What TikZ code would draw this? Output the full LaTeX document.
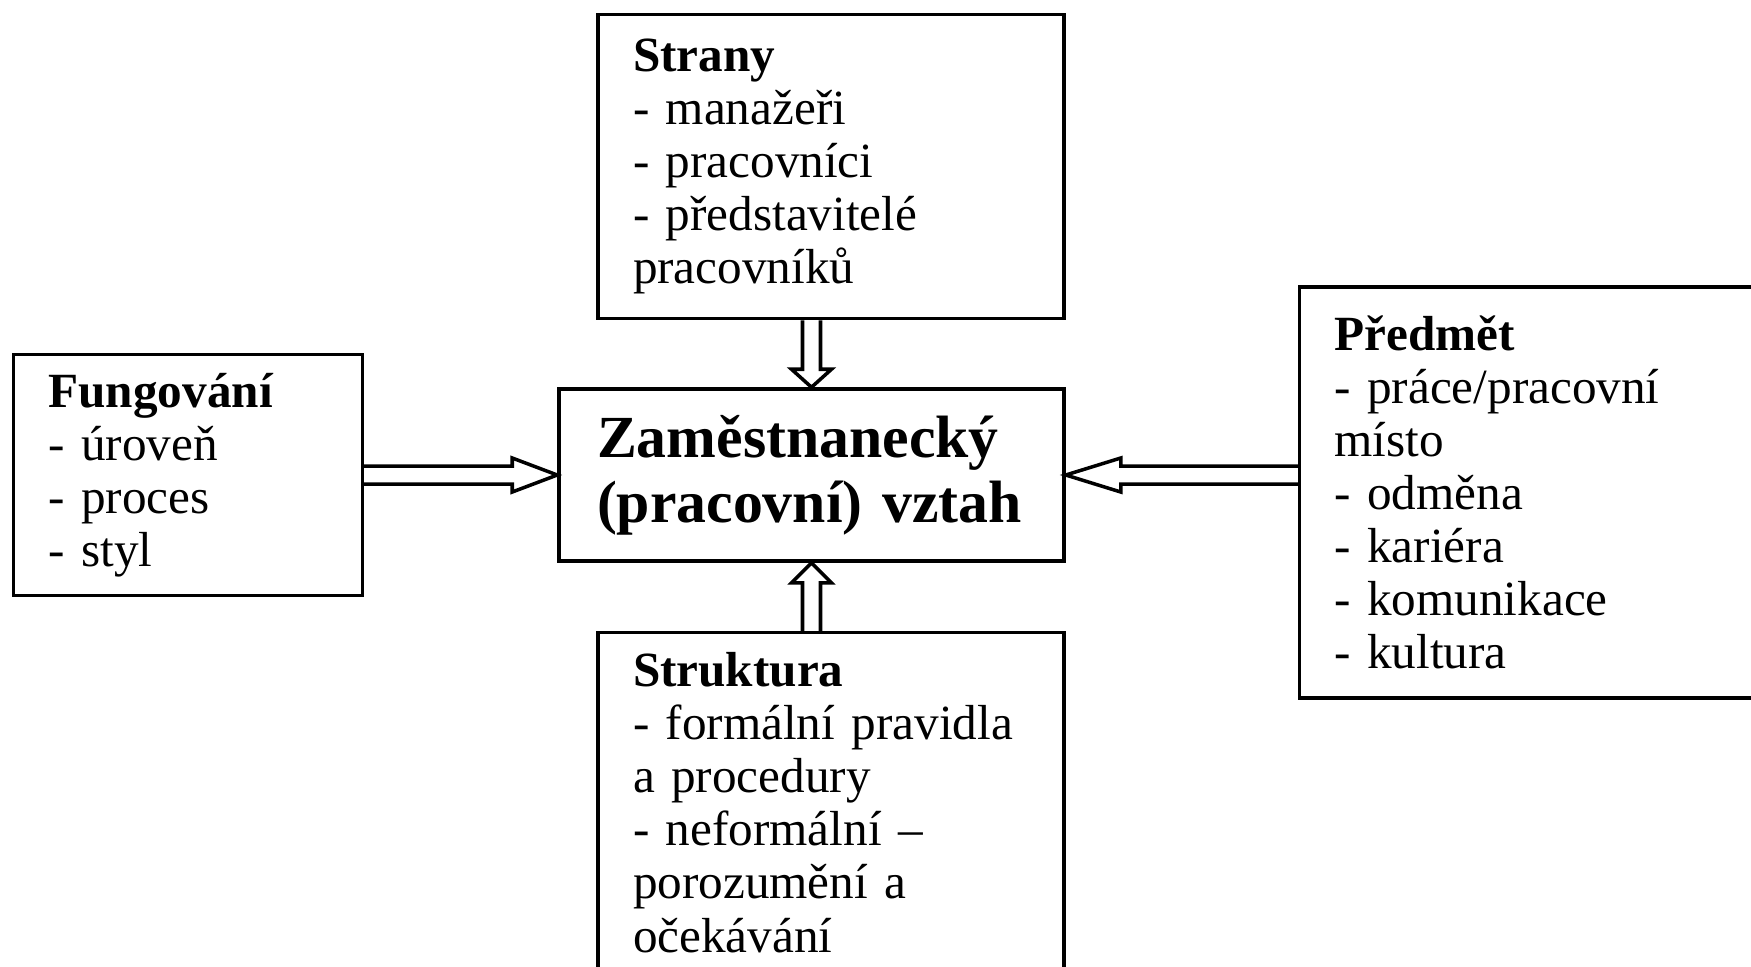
\documentclass[tikz,border=0pt]{standalone}
\usepackage{fontspec}
\setmainfont{Liberation Serif}
\usepackage{tikz}
\usetikzlibrary{
  positioning,
  calc
}
\newcommand{\hollowArrow}[4]{%
  \coordinate (base) at ($(#2)!#3!(#1)$);
  \draw[arrowLine]
  ($(#1)!0.09cm!90:(#2)$) -- ($(base)!0.09cm!90:(#2)$)
  -- ($(base)!#4!90:(#2)$) -- (#2)
  -- ($(base)!#4!-90:(#2)$) -- ($(base)!0.09cm!-90:(#2)$)
  -- ($(#1)!0.09cm!-90:(#2)$);}
\tikzset{
  box/.style={
    draw,
    line width=1pt,
    align=left,
    inner xsep=0.35cm,
    inner ysep=0pt,
    font=\fontsize{14pt}{15.1pt}\selectfont
  }
}
\tikzset{
  arrowLine/.style={
    line width=1pt,
    line join=miter
  }
}

\begin{document}
\begin{tikzpicture}
    \useasboundingbox (0,0) rectangle (17.51,-9.66);
    \clip (0,0) rectangle (17.51,-9.66);

    \node[box, inner xsep=0.38cm, text width=4.29cm, minimum height=1.72cm,
      font=\fontsize{17pt}{18.6pt}\selectfont\bfseries]
      (zam) at (8.115,-4.75) {Zaměstnanecký\\(pracovní) vztah};

    \node[box, above=0.67cm of zam.north east, anchor=south east,
      text width=3.96cm, minimum height=3.04cm] (strany)
      {\textbf{Strany}\\- manažeři\\- pracovníci\\- představitelé\\pracovníků};
    \node[box, below=0.68cm of zam.south east, anchor=north east,
      text width=3.96cm, minimum height=3.4cm] (struktura)
      {\textbf{Struktura}\\- formální pravidla\\a procedury\\- neformální --\\porozumění a\\očekávání};
    \node[box, left=1.93cm of zam, text width=2.79cm, minimum height=2.41cm]
      (fungovani) {\textbf{Fungování}\\- úroveň\\- proces\\- styl};
    \node[box, right=2.32cm of zam.east, anchor=west, yshift=-0.175cm,
      text width=4.15cm, minimum height=4.11cm] (predmet)
      {\textbf{Předmět}\\- práce/pracovní\\místo\\- odměna\\- kariéra\\- komunikace\\- kultura};

    % arrow ends on the outer boxes
    \coordinate (fungEnd) at (fungovani.east |- zam.west);
    \coordinate (predEnd) at (predmet.west |- zam.east);
    \coordinate (stranyEnd) at (strany.south -| zam.north);
    \coordinate (strukEnd) at (struktura.north -| zam.south);

    \hollowArrow{fungEnd}{zam.west}{0.45cm}{0.17cm}
    \hollowArrow{predEnd}{zam.east}{0.55cm}{0.17cm}
    \hollowArrow{stranyEnd}{zam.north}{0.18cm}{0.2cm}
    \hollowArrow{strukEnd}{zam.south}{0.2cm}{0.2cm}
\end{tikzpicture}
\end{document}
